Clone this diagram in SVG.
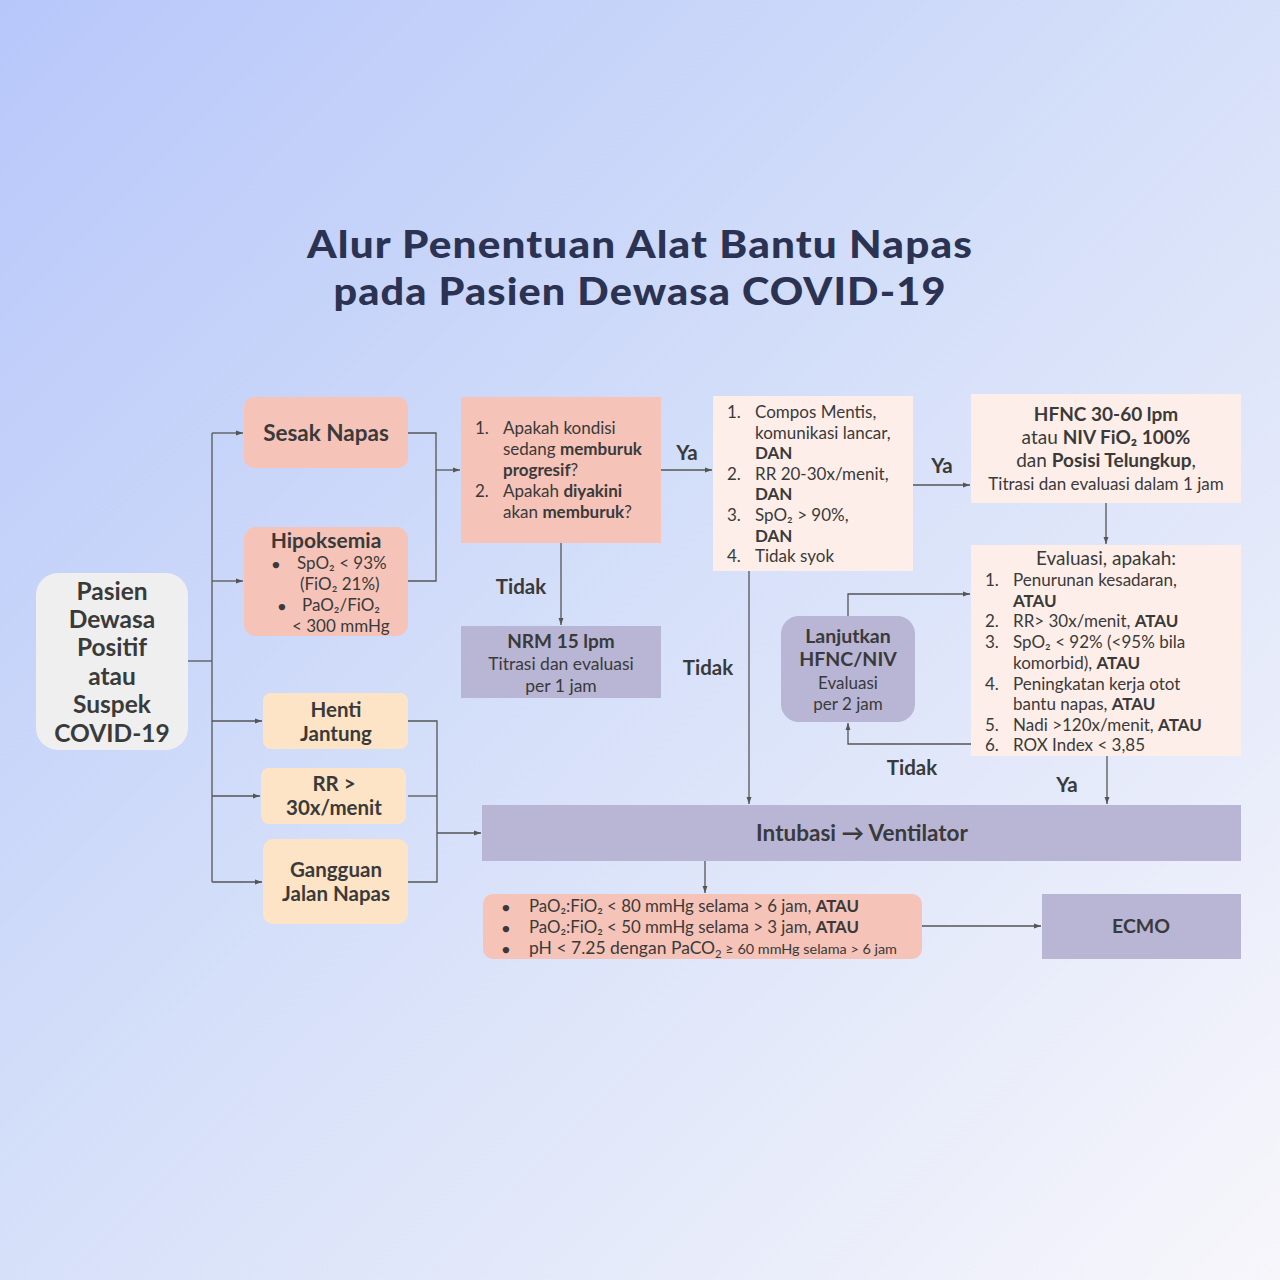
<svg xmlns="http://www.w3.org/2000/svg" width="1280" height="1280" viewBox="0 0 1280 1280">
<defs>
<linearGradient id="bg" x1="0" y1="0" x2="1" y2="1">
<stop offset="0" stop-color="#b7c7fa"/>
<stop offset="0.45" stop-color="#d3def9"/>
<stop offset="1" stop-color="#f7f6fb"/>
</linearGradient>
<marker id="ah" viewBox="0 0 10 10" refX="10" refY="5" markerWidth="7" markerHeight="7" orient="auto" markerUnits="userSpaceOnUse">
<path d="M0,1.5 L10,5 L0,8.5 z" fill="#555"/>
</marker>
<style>
text{font-family:Lato,"Noto Sans",sans-serif;fill:#3a3a3a;}
.b{font-weight:bold;}
.t{font-size:17px;}
.m{font-size:19px;}
.l{font-size:20.5px;}
.c{text-anchor:middle;}
.title{font-family:Lato,"Noto Sans",sans-serif;font-weight:900;font-size:37px;fill:#2b3252;text-anchor:middle;letter-spacing:1px;}
.pk{fill:#f5c3b8;}
.lp{fill:#fdeee9;}
.pu{fill:#b8b5d5;}
.or{fill:#fde4c6;}
.ln{fill:none;stroke:#555;stroke-width:1.3;}
</style>
</defs>
<rect width="1280" height="1280" fill="url(#bg)"/>
<text class="title" x="640" y="258" textLength="666" lengthAdjust="spacingAndGlyphs">Alur Penentuan Alat Bantu Napas</text>
<text class="title" x="640" y="305" textLength="613" lengthAdjust="spacingAndGlyphs">pada Pasien Dewasa COVID-19</text>

<g id="connectors">
<path class="ln" d="M188,661 H212"/>
<path class="ln" d="M212,433 V882"/>
<path class="ln" d="M212,433 H243" marker-end="url(#ah)"/>
<path class="ln" d="M212,581 H243" marker-end="url(#ah)"/>
<path class="ln" d="M212,721 H262" marker-end="url(#ah)"/>
<path class="ln" d="M212,796 H260" marker-end="url(#ah)"/>
<path class="ln" d="M212,882 H262" marker-end="url(#ah)"/>
<path class="ln" d="M408,433 H436 V581 H408"/>
<path class="ln" d="M436,470 H460" marker-end="url(#ah)"/>
<path class="ln" d="M661,470 H712" marker-end="url(#ah)"/>
<path class="ln" d="M561,543 V625" marker-end="url(#ah)"/>
<path class="ln" d="M913,485 H970" marker-end="url(#ah)"/>
<path class="ln" d="M1106,503 V544" marker-end="url(#ah)"/>
<path class="ln" d="M848,616 V594 H970" marker-end="url(#ah)"/>
<path class="ln" d="M971,744 H848 V723" marker-end="url(#ah)"/>
<path class="ln" d="M749,571 V804" marker-end="url(#ah)"/>
<path class="ln" d="M1107,756 V804" marker-end="url(#ah)"/>
<path class="ln" d="M408,721 H437 V882 H408"/>
<path class="ln" d="M408,796 H437"/>
<path class="ln" d="M437,833 H481" marker-end="url(#ah)"/>
<path class="ln" d="M705,861 V893" marker-end="url(#ah)"/>
<path class="ln" d="M922,926 H1041" marker-end="url(#ah)"/>
<text class="l b" x="687" y="460" text-anchor="middle">Ya</text>
<text class="l b" x="942" y="473" text-anchor="middle">Ya</text>
<text class="l b" x="521" y="594" text-anchor="middle">Tidak</text>
<text class="l b" x="708" y="675" text-anchor="middle">Tidak</text>
<text class="l b" x="912" y="775" text-anchor="middle">Tidak</text>
<text class="l b" x="1067" y="792" text-anchor="middle">Ya</text>
</g>

<g id="pasien">
<rect x="36" y="573" width="152" height="177" rx="22" fill="#efefef"/>
<text class="c b" style="font-size:24.5px" x="112" y="600">Pasien</text>
<text class="c b" style="font-size:24.5px" x="112" y="628">Dewasa</text>
<text class="c b" style="font-size:24.5px" x="112" y="656">Positif</text>
<text class="c b" style="font-size:24.5px" x="112" y="685">atau</text>
<text class="c b" style="font-size:24.5px" x="112" y="713">Suspek</text>
<text class="c b" style="font-size:24.5px" x="112" y="742">COVID-19</text>
</g>

<g id="sesak">
<rect class="pk" x="244" y="397" width="164" height="71" rx="10"/>
<text class="c b" style="font-size:22.5px" x="326" y="441">Sesak Napas</text>
</g>

<g id="hipoksemia">
<rect class="pk" x="244" y="527" width="164" height="109" rx="12"/>
<text class="c b" style="font-size:21px" x="326" y="548">Hipoksemia</text>
<text class="t" x="272" y="569" style="font-size:13px">●</text>
<text class="t" x="297" y="569">SpO₂ &lt; 93%</text>
<text class="t" x="300" y="590">(FiO₂ 21%)</text>
<text class="t" x="278" y="611" style="font-size:13px">●</text>
<text class="t" x="302" y="611">PaO₂/FiO₂</text>
<text class="t" x="292" y="632">&lt; 300 mmHg</text>
</g>

<g id="pertanyaan">
<rect class="pk" x="461" y="397" width="200" height="146"/>
<text class="t" x="475" y="434">1.</text>
<text class="t" x="503" y="434">Apakah kondisi</text>
<text class="t" x="503" y="455">sedang <tspan class="b">memburuk</tspan></text>
<text class="t" x="503" y="476"><tspan class="b">progresif</tspan>?</text>
<text class="t" x="475" y="497">2.</text>
<text class="t" x="503" y="497">Apakah <tspan class="b">diyakini</tspan></text>
<text class="t" x="503" y="518">akan <tspan class="b">memburuk</tspan>?</text>
</g>

<g id="nrm">
<rect class="pu" x="461" y="626" width="200" height="72"/>
<text class="c b m" x="561" y="648">NRM 15 lpm</text>
<text class="c" style="font-size:17.5px" x="561" y="670">Titrasi dan evaluasi</text>
<text class="c" style="font-size:17.5px" x="561" y="692">per 1 jam</text>
</g>

<g id="kriteria">
<rect class="lp" x="713" y="396" width="200" height="175"/>
<text class="t" x="727" y="418">1.</text>
<text class="t" x="755" y="418">Compos Mentis,</text>
<text class="t" x="755" y="439">komunikasi lancar,</text>
<text class="t b" x="755" y="459">DAN</text>
<text class="t" x="727" y="480">2.</text>
<text class="t" x="755" y="480">RR 20-30x/menit,</text>
<text class="t b" x="755" y="500">DAN</text>
<text class="t" x="727" y="521">3.</text>
<text class="t" x="755" y="521">SpO₂ &gt; 90%,</text>
<text class="t b" x="755" y="542">DAN</text>
<text class="t" x="727" y="562">4.</text>
<text class="t" x="755" y="562">Tidak syok</text>
</g>

<g id="hfnc">
<rect class="lp" x="971" y="394" width="270" height="109"/>
<text class="c b m" x="1106" y="421">HFNC 30-60 lpm</text>
<text class="c m" x="1106" y="444">atau <tspan class="b">NIV FiO₂ 100%</tspan></text>
<text class="c m" x="1106" y="467">dan <tspan class="b">Posisi Telungkup</tspan>,</text>
<text class="c" style="font-size:17px" x="1106" y="490">Titrasi dan evaluasi dalam 1 jam</text>
</g>

<g id="evaluasi">
<rect class="lp" x="971" y="545" width="270" height="211"/>
<text class="c m" x="1106" y="565">Evaluasi, apakah:</text>
<text class="t" x="985" y="586">1.</text>
<text class="t" x="1013" y="586">Penurunan kesadaran,</text>
<text class="t b" x="1013" y="607">ATAU</text>
<text class="t" x="985" y="627">2.</text>
<text class="t" x="1013" y="627">RR&gt; 30x/menit, <tspan class="b">ATAU</tspan></text>
<text class="t" x="985" y="648">3.</text>
<text class="t" x="1013" y="648">SpO₂ &lt; 92% (&lt;95% bila</text>
<text class="t" x="1013" y="669">komorbid), <tspan class="b">ATAU</tspan></text>
<text class="t" x="985" y="690">4.</text>
<text class="t" x="1013" y="690">Peningkatan kerja otot</text>
<text class="t" x="1013" y="710">bantu napas, <tspan class="b">ATAU</tspan></text>
<text class="t" x="985" y="731">5.</text>
<text class="t" x="1013" y="731">Nadi &gt;120x/menit, <tspan class="b">ATAU</tspan></text>
<text class="t" x="985" y="751">6.</text>
<text class="t" x="1013" y="751">ROX Index &lt; 3,85</text>
</g>

<g id="lanjutkan">
<rect class="pu" x="781" y="616" width="134" height="106" rx="18"/>
<text class="c b" style="font-size:19.5px" x="848" y="643">Lanjutkan</text>
<text class="c b" style="font-size:19.5px" x="848" y="666">HFNC/NIV</text>
<text class="c t" x="848" y="689">Evaluasi</text>
<text class="c t" x="848" y="710">per 2 jam</text>
</g>

<g id="intubasi">
<rect class="pu" x="482" y="805" width="759" height="56"/>
<text class="c b" style="font-size:22.5px" x="862" y="841">Intubasi → Ventilator</text>
</g>

<g id="henti">
<rect class="or" x="263" y="693" width="145" height="56" rx="8"/>
<text class="c b l" x="336" y="717">Henti</text>
<text class="c b l" x="336" y="741">Jantung</text>
</g>

<g id="rr">
<rect class="or" x="261" y="768" width="145" height="56" rx="8"/>
<text class="c b l" x="334" y="791">RR &gt;</text>
<text class="c b l" x="334" y="815">30x/menit</text>
</g>

<g id="gangguan">
<rect class="or" x="263" y="839" width="145" height="85" rx="10"/>
<text class="c b l" x="336" y="877">Gangguan</text>
<text class="c b l" x="336" y="901">Jalan Napas</text>
</g>

<g id="kriteria-ecmo">
<rect class="pk" x="483" y="894" width="439" height="65" rx="10"/>
<text x="502" y="912" style="font-size:13px">●</text>
<text class="t" x="529" y="912" textLength="330" lengthAdjust="spacingAndGlyphs">PaO₂:FiO₂ &lt; 80 mmHg selama &gt; 6 jam, <tspan class="b">ATAU</tspan></text>
<text x="502" y="933" style="font-size:13px">●</text>
<text class="t" x="529" y="933" textLength="330" lengthAdjust="spacingAndGlyphs">PaO₂:FiO₂ &lt; 50 mmHg selama &gt; 3 jam, <tspan class="b">ATAU</tspan></text>
<text x="502" y="954" style="font-size:13px">●</text>
<text class="t" x="529" y="954" textLength="368" lengthAdjust="spacingAndGlyphs">pH &lt; 7.25 dengan PaCO<tspan style="font-size:11px" dy="4">2</tspan><tspan dy="-4" style="font-size:14px"> ≥ 60 mmHg selama &gt; 6 jam</tspan></text>
</g>

<g id="ecmo">
<rect class="pu" x="1042" y="894" width="199" height="65"/>
<text class="c b" style="font-size:19.5px" x="1141" y="933">ECMO</text>
</g>
</svg>
